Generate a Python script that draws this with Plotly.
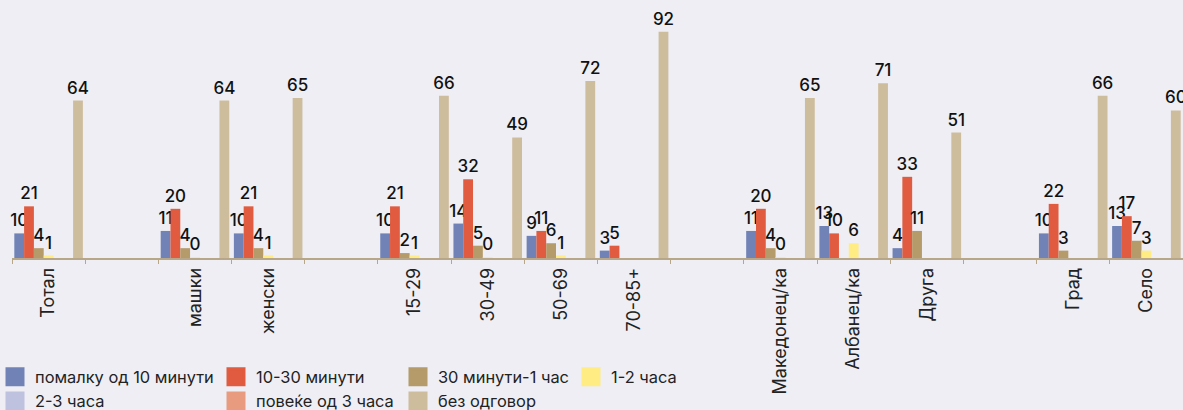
import plotly.graph_objects as go

categories = ["Тотал", " ", "машки", "женски", "  ", "15-29", "30-49", "50-69", "70-85+",
              "   ", "Македонец/ка", "Албанец/ка", "Друга", "    ", "Град", "Село"]

series_names = ["помалку од 10 минути", "10-30 минути", "30 минути-1 час", "1-2 часа",
                "2-3 часа", "повеќе од 3 часа", "без одговор"]

less_10min = [10, None, 11, 10, None, 10, 14, 9, 3, None, 11, 13, 4, None, 10, 13]
min_10_30 = [21, None, 20, 21, None, 21, 32, 11, 5, None, 20, 10, 33, None, 22, 17]
min30_1h = [4, None, 4, 4, None, 2, 5, 6, None, None, 4, None, 11, None, 3, 7]
h_1_2 = [1, None, 0.4, 1, None, 1, 0.4, 1, None, None, 0.4, 6, None, None, None, 3]
h_2_3 = [None] * 16
more_3h = [None] * 16
no_answer = [64, None, 64, 65, None, 66, 49, 72, 92, None, 65, 71, 51, None, 66, 60]

values = [less_10min, min_10_30, min30_1h, h_1_2, h_2_3, more_3h, no_answer]
colors = ["#7183B6", "#E05B3F", "#B59A6A", "#FFEC82", "#BEC2DF", "#E99B80", "#CEBD9D"]
legend_ids = ["legend", "legend2", "legend3", "legend4", "legend", "legend2", "legend3"]

FONT = "Inter"

fig = go.Figure()
for name, vals, col, lg in zip(series_names, values, colors, legend_ids):
    fig.add_trace(go.Bar(
        x=categories, y=vals, name=name,
        marker=dict(color=col, line=dict(width=0)),
        texttemplate="%{y:.0f}", textposition="outside",
        textfont=dict(family=FONT, size=17, color="#111111", weight=500),
        constraintext="none", cliponaxis=False,
        showlegend=False,
    ))
# legend entries (square swatches like the reference)
for name, col, lg in zip(series_names, colors, legend_ids):
    fig.add_trace(go.Scatter(
        x=[None], y=[None], name=name, mode="markers",
        marker=dict(symbol="square", size=16, color=col, line=dict(width=3, color=col)),
        legend=lg, showlegend=True, hoverinfo="skip",
    ))

bg = "#EEEEF4"
W, H = 1183, 410
ML, MR, MT, MB = 12, 0, 12, 152
PW = W - ML - MR


def lx(px):
    return (px - ML) / PW


leg_common = dict(orientation="v", xref="paper", yref="container",
                  xanchor="left", yanchor="top", y=0.123,
                  font=dict(family=FONT, size=16.4, color="#222222"),
                  bgcolor="rgba(0,0,0,0)", tracegroupgap=0, traceorder="normal",
                  itemwidth=30)

fig.update_layout(
    width=W, height=H,
    paper_bgcolor=bg, plot_bgcolor=bg,
    margin=dict(l=ML, r=MR, t=MT, b=MB, autoexpand=False),
    barmode="group", bargap=0.063, bargroupgap=0,
    font=dict(family=FONT, size=17, color="#222222"),
    legend=dict(x=lx(-5), **leg_common),
    legend2=dict(x=lx(216), **leg_common),
    legend3=dict(x=lx(398), **leg_common),
    legend4=dict(x=lx(571), **leg_common),
    xaxis=dict(type="category", showline=True, linecolor="#B7A688", linewidth=1.5,
               ticks="outside", tickson="boundaries", ticklen=4, tickcolor="#B7A688",
               tickangle=-90, tickfont=dict(family=FONT, size=18, color="#222222"),
               showgrid=False, zeroline=False, ticklabelstandoff=1, automargin=False),
    yaxis=dict(range=[0, 100], visible=False, showgrid=False, zeroline=False),
)

fig.write_html("out.html", config={"displayModeBar": False},
               post_script="document.body.style.margin='0';document.body.style.overflow='hidden';document.body.style.background='#EEEEF4';")
